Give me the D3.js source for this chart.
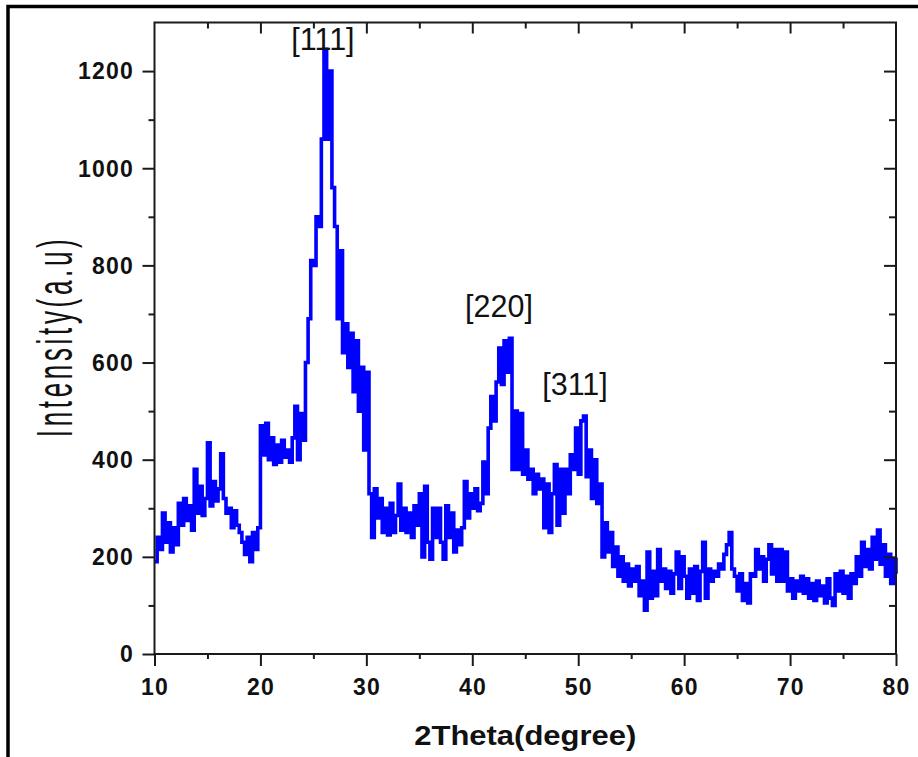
<!DOCTYPE html>
<html>
<head>
<meta charset="utf-8">
<script src="https://cdn.jsdelivr.net/npm/d3@7"></script>
<style>
  html, body { margin: 0; padding: 0; background: #fff; }
  svg { display: block; }
</style>
</head>
<body>
<svg id="chart" width="918" height="757"></svg>
<script>
// ---- data ----
const thetaStart = 10;      // first 2θ value (degree)
const thetaStep = 0.25;     // sampling step (degree)
const intensity = [
  190, 240, 215, 290,  230, 270, 210, 260,  225, 310, 265, 320,  275, 305, 255, 380,
  290, 345, 285, 320,  435, 305, 355, 315,  340, 412, 320, 290,  300, 260, 295, 265,
  250, 230, 205, 240,  190, 250, 215, 260,  470, 410, 475, 400,  445, 390, 430, 395,
  440, 405, 420, 395,  445, 510, 400, 495,  440, 600, 690, 810,  800, 900, 880, 1060,
  1245, 1060, 1200, 960, 880, 690, 830, 620, 680, 590, 660, 540, 645, 500, 590, 420,
  580, 330, 240, 340,  280, 320, 250, 300,  245, 310, 250, 285,  350, 255, 300, 250,
  290, 240, 305, 265,  330, 200, 345, 230,  195, 300, 240, 300,  230, 195, 305, 240,
  290, 210, 255, 225,  260, 355, 280, 330,  300, 340, 295, 310,  395, 330, 465, 530,
  480, 560, 630, 555,  645, 580, 650, 380,  500, 380, 495, 370,  420, 360, 380, 330,
  370, 340, 360, 260,  350, 250, 330, 390,  265, 380, 290, 380,  330, 410, 380, 465,
  370, 480, 490, 365,  420, 320, 400, 310,  350, 200, 270, 210,  250, 180, 220, 160,
  200, 150, 185, 140,  175, 150, 180, 120,  150, 90, 210, 115,   170, 120, 215, 150,
  175, 135, 170, 125,  165, 210, 135, 200,  160, 115, 175, 125,  180, 110, 170, 230,
  115, 175, 150, 170,  160, 185, 175, 205,  225, 250, 175, 160,  130, 165, 110, 145,
  105, 165, 160, 215,  175, 200, 150, 195,  225, 165, 215, 150,  215, 150, 210, 130,
  155, 115, 150, 130,  160, 125, 155, 115,  145, 110, 150, 120,  140, 105, 155, 115,
  100, 165, 130, 170,  125, 160, 115, 165,  145, 200, 160, 230,  180, 215, 175, 240,
  195, 255, 185, 225,  160, 205, 145, 195,  165
];
const xMajorTicks = [10, 20, 30, 40, 50, 60, 70, 80];
const xMinorTicks = [15, 25, 35, 45, 55, 65, 75];
const yMajorTicks = [0, 200, 400, 600, 800, 1000, 1200];
const yMinorTicks = [100, 300, 500, 700, 900, 1100];
const peakLabels = ["[111]", "[220]", "[311]"];
const peakTheta = [25.9, 42.52, 49.7];
const peakLabelValue = [1243, 694, 533];
const xTitle = "2Theta(degree)";
const yTitle = "Intensity(a.u)";

// ---- layout ----
const svg = d3.select("#chart");
const L = 154.5, R = 896, T = 22.5, B = 654;
const x = d3.scaleLinear().domain([10, 80]).range([L, R]);
const y = d3.scaleLinear().domain([0, 1300]).range([B, T]);

// outer frame (partially visible)
svg.append("path")
  .attr("d", "M8,760 V6.5 H920")
  .attr("fill", "none").attr("stroke", "#000").attr("stroke-width", 3.5);

const data = intensity.map((v, i) => ({ t: thetaStart + i * thetaStep, v }));

// line
const line = d3.line().x(d => x(d.t)).y(d => y(d.v)).curve(d3.curveStepAfter);
svg.append("path")
  .datum(data)
  .attr("d", line)
  .attr("fill", "none")
  .attr("stroke", "#0000FF")
  .attr("stroke-width", 3.6)
  .attr("stroke-linejoin", "miter");

// axes
const tickColor = "#1a1a1a";
function styleAxis(g) {
  g.select(".domain").remove();
  g.selectAll(".tick line").attr("stroke", tickColor).attr("stroke-width", 2);
}
const fmtNone = () => "";

svg.append("g").attr("transform", `translate(0,${B})`)
  .call(d3.axisBottom(x).tickValues(xMajorTicks).tickSize(12).tickFormat(fmtNone)).call(styleAxis);
svg.append("g").attr("transform", `translate(0,${B})`)
  .call(d3.axisBottom(x).tickValues(xMinorTicks).tickSize(5).tickFormat(fmtNone)).call(styleAxis);
svg.append("g").attr("transform", `translate(0,${T})`)
  .call(d3.axisTop(x).tickValues(xMajorTicks.slice(1, -1)).tickSize(-11).tickFormat(fmtNone)).call(styleAxis);
svg.append("g").attr("transform", `translate(0,${T})`)
  .call(d3.axisTop(x).tickValues(xMinorTicks).tickSize(-6).tickFormat(fmtNone)).call(styleAxis);
svg.append("g").attr("transform", `translate(${L},0)`)
  .call(d3.axisLeft(y).tickValues(yMajorTicks).tickSize(12).tickFormat(fmtNone)).call(styleAxis);
svg.append("g").attr("transform", `translate(${L},0)`)
  .call(d3.axisLeft(y).tickValues(yMinorTicks).tickSize(6).tickFormat(fmtNone)).call(styleAxis);
svg.append("g").attr("transform", `translate(${R},0)`)
  .call(d3.axisRight(y).tickValues(yMajorTicks.slice(1)).tickSize(-12).tickFormat(fmtNone)).call(styleAxis);
svg.append("g").attr("transform", `translate(${R},0)`)
  .call(d3.axisRight(y).tickValues(yMinorTicks).tickSize(-7).tickFormat(fmtNone)).call(styleAxis);

// frame
svg.append("rect")
  .attr("x", L).attr("y", T).attr("width", R - L).attr("height", B - T)
  .attr("fill", "none").attr("stroke", tickColor).attr("stroke-width", 2);

// tick labels
const tickFont = "'Liberation Sans', Arial, sans-serif";
svg.append("g").selectAll("text").data(xMajorTicks).join("text")
  .attr("x", d => x(d) + 0.6).attr("y", 695)
  .attr("text-anchor", "middle")
  .attr("font-family", tickFont).attr("font-weight", "bold").attr("font-size", 23)
  .attr("letter-spacing", 1.2)
  .attr("fill", "#111")
  .text(d => d);
svg.append("g").selectAll("text").data(yMajorTicks).join("text")
  .attr("x", 134).attr("y", d => y(d))
  .attr("dy", "0.36em")
  .attr("text-anchor", "end")
  .attr("font-family", tickFont).attr("font-weight", "bold").attr("font-size", 23)
  .attr("letter-spacing", 1.2)
  .attr("fill", "#111")
  .text(d => d);

// axis titles
svg.append("text")
  .attr("x", (L + R) / 2).attr("y", 745)
  .attr("text-anchor", "middle")
  .attr("font-family", tickFont).attr("font-weight", "bold").attr("font-size", 28)
  .attr("textLength", 222).attr("lengthAdjust", "spacingAndGlyphs")
  .attr("fill", "#111")
  .text(xTitle);

svg.append("text")
  .attr("transform", `translate(71.5,${(T + B) / 2}) rotate(-90) scale(1,1.95)`)
  .attr("text-anchor", "middle")
  .attr("font-family", tickFont).attr("font-size", 26)
  .attr("textLength", 198).attr("lengthAdjust", "spacing")
  .attr("fill", "#111")
  .text(yTitle);

// peak labels
svg.append("g").selectAll("text").data(peakLabels).join("text")
  .attr("x", (d, i) => x(peakTheta[i]))
  .attr("y", (d, i) => y(peakLabelValue[i]))
  .attr("text-anchor", "middle")
  .attr("font-family", tickFont).attr("font-size", 30.5)
  .attr("fill", "#111")
  .text(d => d);
</script>
</body>
</html>
